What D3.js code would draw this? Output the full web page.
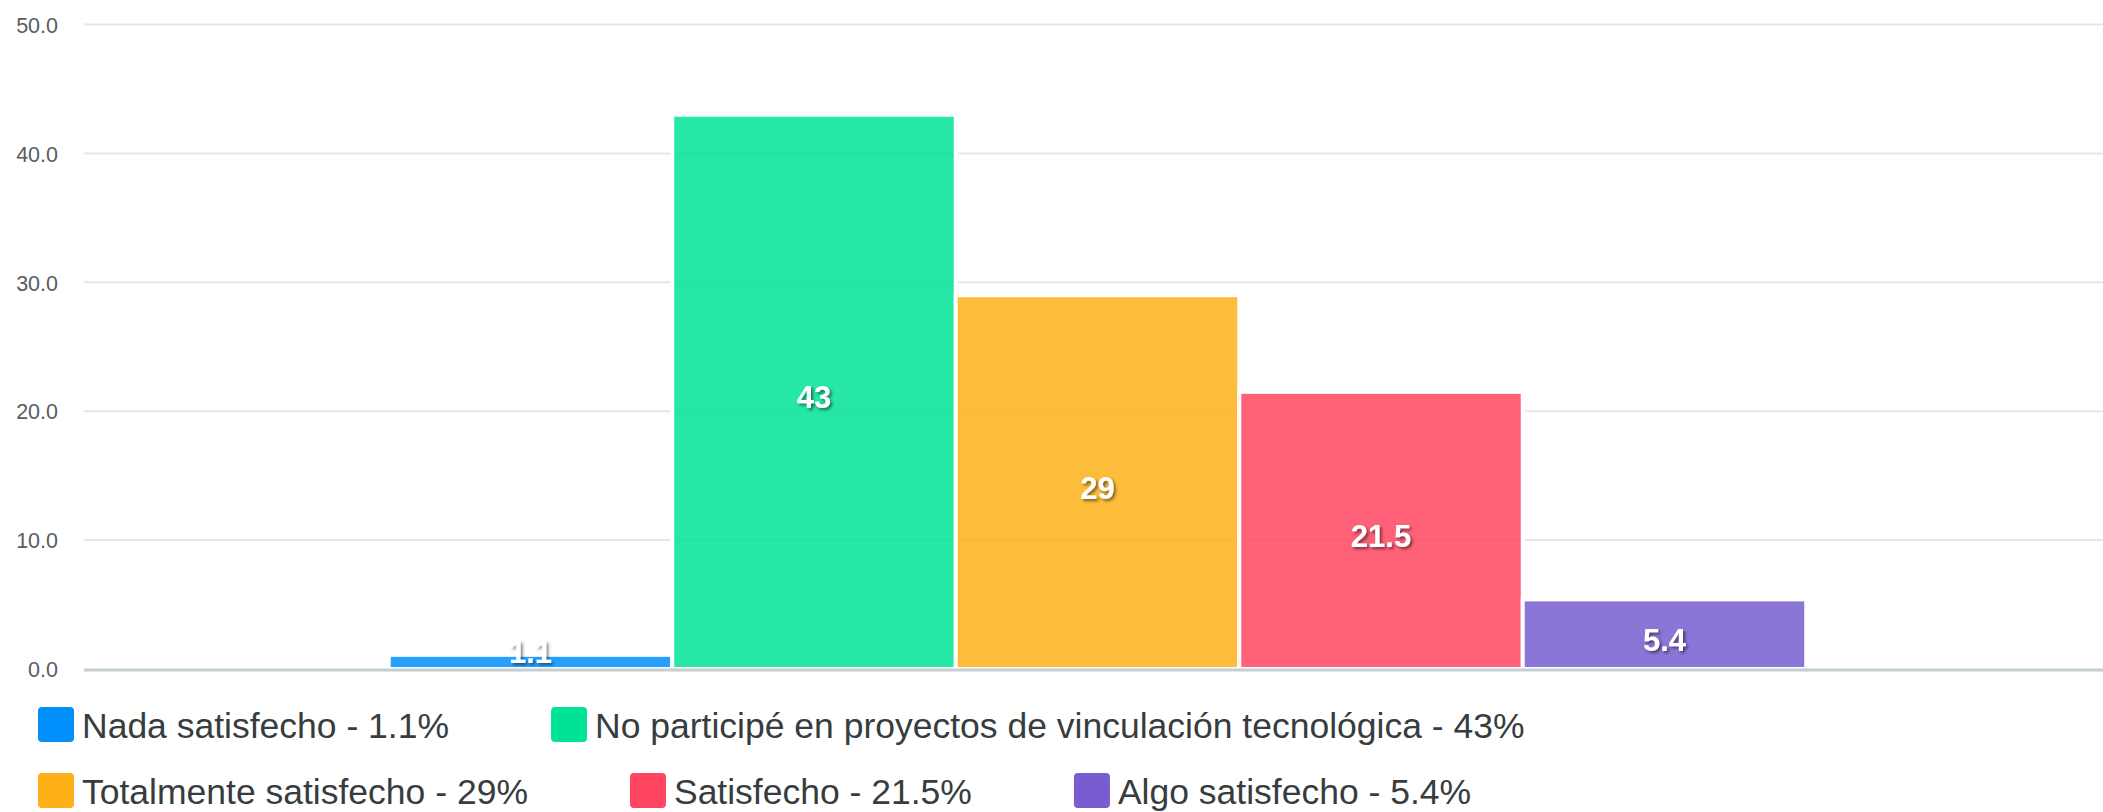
<!DOCTYPE html>
<html>
<head>
<meta charset="utf-8">
<script src="https://cdn.jsdelivr.net/npm/d3@7"></script>
<style>
  html, body { margin: 0; padding: 0; background: #fff; }
  svg { display: block; }
</style>
</head>
<body>
<svg id="chart" width="2103" height="812"></svg>
<script>
// ---- data ----
const categories = ["Nada satisfecho", "No participé en proyectos de vinculación tecnológica", "Totalmente satisfecho", "Satisfecho", "Algo satisfecho"];
const values = [1.1, 43, 29, 21.5, 5.4];
const colors = ["#008FFB", "#00E396", "#FEB019", "#FF4560", "#775DD0"];
const yTicks = [0, 10, 20, 30, 40, 50];
const yTickLabels = ["0.0", "10.0", "20.0", "30.0", "40.0", "50.0"];

// ---- layout ----
const W = 2103, H = 812;
const plot = { left: 85, right: 2110, top: 24.5, bottom: 669 };
const svg = d3.select("#chart");
const font = "'Liberation Sans', Arial, Helvetica, sans-serif";

const defs = svg.append("defs");
const f = defs.append("filter").attr("id", "ds").attr("x", "-30%").attr("y", "-30%").attr("width", "160%").attr("height", "160%");
f.append("feDropShadow").attr("dx", 2).attr("dy", 2).attr("stdDeviation", 1.4)
  .attr("flood-color", "#000").attr("flood-opacity", 0.5);

const y = d3.scaleLinear().domain([0, 50]).range([plot.bottom, plot.top]);

// single category group, columns take 70% of the plot width
const colFrac = 0.7;
const xCat = d3.scaleBand().domain(["all"]).range([plot.left, plot.right])
  .paddingInner(0).paddingOuter((1 - colFrac) / (2 * colFrac));
const x = d3.scaleBand().domain(categories)
  .range([xCat("all"), xCat("all") + xCat.bandwidth()]).padding(0);

// grid lines
svg.append("g").selectAll("line").data(yTicks.filter(d => d > 0)).join("line")
  .attr("x1", plot.left - 1).attr("x2", plot.right)
  .attr("y1", d => y(d)).attr("y2", d => y(d))
  .attr("stroke", "#e6e6e6").attr("stroke-width", 2);

// y axis labels
const yAxis = d3.axisLeft(y).tickValues(yTicks).tickFormat((d, i) => yTickLabels[i]).tickSize(0).tickPadding(0);
const ya = svg.append("g").attr("transform", "translate(58,0)").call(yAxis);
ya.select(".domain").remove();
ya.selectAll("text").attr("font-family", font).attr("font-size", 21.5).attr("fill", "#5a5d60")
  .attr("dy", "0.36em");

// bars
svg.append("g").selectAll("rect").data(values).join("rect")
  .attr("x", (d, i) => x(categories[i]))
  .attr("width", x.bandwidth())
  .attr("y", d => y(d))
  .attr("height", d => y(0) - y(d))
  .attr("fill", (d, i) => colors[i]).attr("fill-opacity", 0.85)
  .attr("stroke", "#fff").attr("stroke-width", 4);

// baseline
svg.append("line").attr("x1", plot.left - 1).attr("x2", plot.right)
  .attr("y1", y(0) + 1).attr("y2", y(0) + 1)
  .attr("stroke", "#c4ced4").attr("stroke-width", 3);

// data labels
svg.append("g").selectAll("text").data(values).join("text")
  .attr("x", (d, i) => x(categories[i]) + x.bandwidth() / 2)
  .attr("y", d => {
    const h = y(0) - y(d);
    return h < 32 ? y(d) - 2 : (y(d) + y(0)) / 2 + 6;
  })
  .attr("text-anchor", "middle").attr("dominant-baseline", "central")
  .attr("font-family", font).attr("font-weight", "bold").attr("font-size", 31)
  .attr("fill", "#fff").attr("filter", "url(#ds)")
  .text(d => d);

// legend (flow layout)
const legend = svg.append("g");
const rows = [725, 791];
const lx0 = 38, sw = 36, textGap = 8, itemGap = 102, maxX = 1700;
let cx = lx0, row = 0;
categories.forEach((c, i) => {
  const g = legend.append("g");
  const t = g.append("text")
    .attr("font-family", font).attr("font-size", 35.5).attr("fill", "#373d3f")
    .attr("dominant-baseline", "central")
    .text(c + " - " + values[i] + "%");
  const tw = t.node().getComputedTextLength();
  if (cx + sw + textGap + tw > maxX && cx > lx0) { row++; cx = lx0; }
  g.append("rect").attr("x", cx).attr("y", rows[row] - sw / 2).attr("width", sw).attr("height", sw - 1)
    .attr("rx", 4).attr("fill", colors[i]);
  t.attr("x", cx + sw + textGap).attr("y", rows[row] + 1);
  cx += sw + textGap + tw + itemGap;
});
</script>
</body>
</html>
